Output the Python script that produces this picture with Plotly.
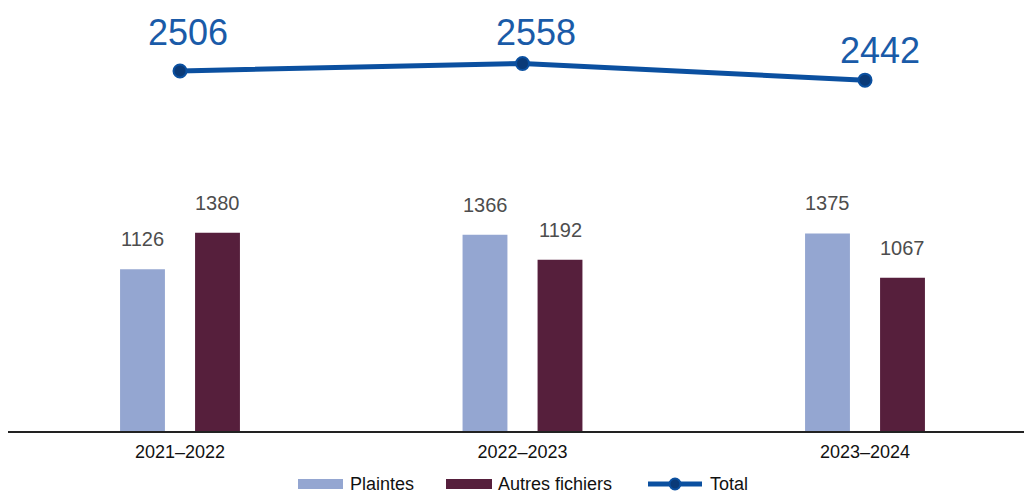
import plotly.graph_objects as go

# Data
periods = ["2021–2022", "2022–2023", "2023–2024"]
plaintes = [1126, 1366, 1375]
autres_fichiers = [1380, 1192, 1067]
total = [2506, 2558, 2442]

COL_PLAINTES = "#94A6D1"
COL_AUTRES = "#561F3C"
COL_TOTAL = "#0B50A0"
COL_MARKER = "#0A3A78"
COL_BARLABEL = "#4D4D4D"
COL_TOTLABEL = "#1A5BA8"

W, H = 1024, 495
ML, MR, MT, MB = 8, 0, 0, 64
PLOT_W = W - ML - MR
PLOT_H = H - MT - MB

x_pos = list(range(len(periods)))
bar_w = 0.131
half_gap = 0.1095

SANS = "Liberation Sans, Arial, Helvetica, sans-serif"

fig = go.Figure()

fig.add_trace(go.Bar(
    x=x_pos, y=plaintes, name="Plaintes",
    marker=dict(color=COL_PLAINTES, line=dict(width=0)),
    width=bar_w, offset=-half_gap - bar_w / 2,
    showlegend=False, hoverinfo="y",
))
fig.add_trace(go.Bar(
    x=x_pos, y=autres_fichiers, name="Autres fichiers",
    marker=dict(color=COL_AUTRES, line=dict(width=0)),
    width=bar_w, offset=half_gap - bar_w / 2,
    showlegend=False, hoverinfo="y",
))
fig.add_trace(go.Scatter(
    x=x_pos, y=total, name="Total", mode="lines+markers",
    line=dict(color=COL_TOTAL, width=5),
    marker=dict(size=13, color=COL_MARKER, line=dict(color=COL_TOTAL, width=2)),
    showlegend=False, hoverinfo="y",
))

annotations = []
# Values above the bars
for i in x_pos:
    for val, off in ((plaintes[i], -half_gap), (autres_fichiers[i], half_gap)):
        annotations.append(dict(
            x=i + off, y=val, xref="x", yref="y", text=str(val),
            showarrow=False, yanchor="bottom", yshift=17,
            font=dict(family=SANS, size=20, color=COL_BARLABEL),
        ))

# Values above the total line
total_label_shift = [(8, 16), (13, 9), (15, 7)]
for i in x_pos:
    dx, dy = total_label_shift[i]
    annotations.append(dict(
        x=i, y=total[i], xref="x", yref="y", text=str(total[i]),
        showarrow=False, yanchor="bottom", xshift=dx, yshift=dy,
        font=dict(family=SANS, size=36, color=COL_TOTLABEL),
    ))


def px_x(p):
    return (p - ML) / PLOT_W


def px_y(p):
    return (MT + PLOT_H - p) / PLOT_H


# Legend drawn below the axis
shapes = []
leg_y = 484
shapes.append(dict(type="rect", xref="paper", yref="paper",
                   x0=px_x(298), x1=px_x(343), y0=px_y(489), y1=px_y(479),
                   fillcolor=COL_PLAINTES, line=dict(width=0)))
shapes.append(dict(type="rect", xref="paper", yref="paper",
                   x0=px_x(446), x1=px_x(492), y0=px_y(489), y1=px_y(479),
                   fillcolor=COL_AUTRES, line=dict(width=0)))
shapes.append(dict(type="line", xref="paper", yref="paper",
                   x0=px_x(648), x1=px_x(702), y0=px_y(leg_y), y1=px_y(leg_y),
                   line=dict(color=COL_TOTAL, width=5)))
shapes.append(dict(type="circle", xref="paper", yref="paper",
                   x0=px_x(669.5), x1=px_x(680.5), y0=px_y(489.5), y1=px_y(478.5),
                   fillcolor=COL_MARKER, line=dict(color=COL_TOTAL, width=2)))

for label, xl in (("Plaintes", 348), ("Autres fichiers", 496), ("Total", 708)):
    annotations.append(dict(
        x=px_x(xl), y=px_y(leg_y), xref="paper", yref="paper", text=label,
        showarrow=False, xanchor="left", yanchor="middle",
        font=dict(family=SANS, size=18, color="#111111"),
    ))

fig.update_layout(
    width=W, height=H,
    margin=dict(l=ML, r=MR, t=MT, b=MB),
    paper_bgcolor="white", plot_bgcolor="white",
    barmode="overlay",
    annotations=annotations, shapes=shapes,
    xaxis=dict(
        range=[(ML - 180) / 342.5, (W - MR - 180) / 342.5],
        tickmode="array", tickvals=x_pos, ticktext=periods,
        showgrid=False, zeroline=False,
        showline=True, linecolor="#222222", linewidth=2,
        ticks="", ticklabelstandoff=3,
        tickfont=dict(family=SANS, size=18, color="#111111"),
        fixedrange=True,
    ),
    yaxis=dict(
        range=[0, 3000], visible=False, showgrid=False, zeroline=False,
        fixedrange=True,
    ),
    showlegend=False,
)

fig.write_html("out.html")
